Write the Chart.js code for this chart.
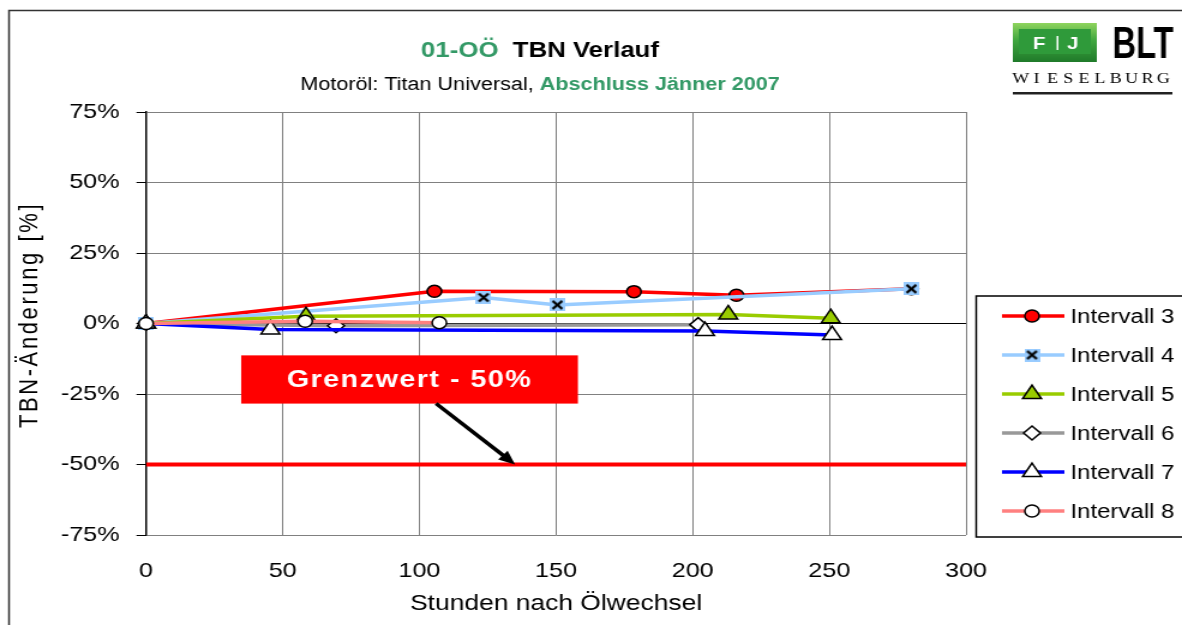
<!DOCTYPE html>
<html>
<head>
<meta charset="utf-8">
<script src="https://cdn.jsdelivr.net/npm/chart.js@4.4.0/dist/chart.umd.min.js"></script>
<style>
  html, body { margin: 0; padding: 0; background: #fff; overflow: hidden; }
  #tbnChart { display: block; }
</style>
</head>
<body>
<!-- the reference is stretched horizontally, so the canvas is drawn narrow and scaled up by css -->
<canvas id="tbnChart" width="985" height="625" style="width:1182px;height:625px"></canvas>
<script>
// ---- data (hours after oil change / TBN change in %) ----
const seriesNames = ['Intervall 3', 'Intervall 4', 'Intervall 5', 'Intervall 6', 'Intervall 7', 'Intervall 8'];
const hours3 = [0, 105.5, 178.5, 216, 280];
const tbn3   = [0, 11.4, 11.3, 10.0, 12.3];
const hours4 = [0, 123.5, 150.5, 280];
const tbn4   = [0, 9.2, 6.6, 12.3];
const hours5 = [0, 58.5, 213, 250.5];
const tbn5   = [0, 2.6, 3.2, 1.9];
const hours6 = [0, 69.5, 202];
const tbn6   = [0, -0.8, -0.4];
const hours7 = [0, 45.5, 204.5, 251];
const tbn7   = [0, -2.1, -2.7, -4.1];
const hours8 = [0, 58.2, 107.3];
const tbn8   = [0, 0.8, 0.3];
const limitHours = [0, 300];
const limitValue = [-50, -50];
const limitLabel = 'Grenzwert - 50%';
const xTicks = [0, 50, 100, 150, 200, 250, 300];
const yTicks = [-75, -50, -25, 0, 25, 50, 75];

const FONT = "'Liberation Sans', Arial, sans-serif";
const GREEN = '#339966';

// annotation box + arrow, in data units
const noteBox = { x0: 34.8, x1: 158, y0: -11.3, y1: -28.4 };
const noteArrow = { x0: 106.1, y0: -28.4, x1: 135, y1: -50 };

// light blue square with black x, used as marker for Intervall 4
const crossImg = document.createElement('canvas');
crossImg.width = 13; crossImg.height = 13;
(() => {
  const c = crossImg.getContext('2d');
  c.fillStyle = '#99ccff';
  c.fillRect(0, 0, 13, 13);
  c.strokeStyle = '#000';
  c.lineWidth = 2.4;
  c.beginPath();
  c.moveTo(2.5, 2.5); c.lineTo(10.5, 10.5);
  c.moveTo(10.5, 2.5); c.lineTo(2.5, 10.5);
  c.stroke();
})();

const looks = [
  { color: '#ff0000', fill: '#ff0000', style: 'circle',   r: 6 },
  { color: '#99ccff', fill: '#99ccff', style: crossImg,   r: 7 },
  { color: '#99cc00', fill: '#99cc00', style: 'triangle', r: 9 },
  { color: '#999999', fill: '#ffffff', style: 'rectRot',  r: 7 },
  { color: '#0000ff', fill: '#ffffff', style: 'triangle', r: 9 },
  { color: '#ff8080', fill: '#ffffff', style: 'circle',   r: 6 },
];

const pts = (xs, ys) => xs.map((x, i) => ({ x: x, y: ys[i] }));
const seriesData = [
  pts(hours3, tbn3), pts(hours4, tbn4), pts(hours5, tbn5),
  pts(hours6, tbn6), pts(hours7, tbn7), pts(hours8, tbn8),
];

const datasets = seriesData.map((d, i) => ({
  label: seriesNames[i],
  data: d,
  borderColor: looks[i].color,
  borderWidth: 3.5,
  pointStyle: looks[i].style,
  pointRadius: looks[i].r,
  pointHoverRadius: looks[i].r,
  pointBackgroundColor: looks[i].fill,
  pointBorderColor: '#000',
  pointBorderWidth: 1.5,
  tension: 0,
  clip: false,
  order: -i, // later series on top, like the original
}));
datasets.push({
  label: limitLabel,
  data: pts(limitHours, limitValue),
  borderColor: '#ff0000',
  borderWidth: 4,
  pointRadius: 0,
  order: 10,
});

function drawMarker(ctx, lk, x, y) {
  if (typeof lk.style !== 'string') {
    ctx.drawImage(lk.style, x - lk.style.width / 2, y - lk.style.height / 2);
    return;
  }
  const r = lk.r;
  ctx.beginPath();
  if (lk.style === 'circle') {
    ctx.arc(x, y, r, 0, Math.PI * 2);
  } else if (lk.style === 'triangle') {
    ctx.moveTo(x, y - r);
    ctx.lineTo(x + r * Math.sin(Math.PI * 2 / 3), y + r / 2);
    ctx.lineTo(x - r * Math.sin(Math.PI * 2 / 3), y + r / 2);
  } else {
    ctx.moveTo(x, y - r); ctx.lineTo(x + r, y); ctx.lineTo(x, y + r); ctx.lineTo(x - r, y);
  }
  ctx.closePath();
  ctx.fillStyle = lk.fill;
  ctx.fill();
  ctx.lineWidth = 1.5;
  ctx.strokeStyle = '#000';
  ctx.stroke();
}

function drawRich(ctx, parts, cx, y) {
  let total = 0;
  parts.forEach(p => { ctx.font = p.font; p.w = ctx.measureText(p.text).width; total += p.w; });
  let x = cx - total / 2;
  ctx.textAlign = 'left';
  ctx.textBaseline = 'alphabetic';
  parts.forEach(p => { ctx.font = p.font; ctx.fillStyle = p.color; ctx.fillText(p.text, x, y); x += p.w; });
}

const decorPlugin = {
  id: 'decor',
  beforeDraw(chart) {
    const ctx = chart.ctx;
    ctx.save();
    ctx.fillStyle = '#fff';
    ctx.fillRect(0, 0, chart.width, chart.height);
    ctx.restore();
  },
  afterDatasetsDraw(chart) {
    const { ctx, scales: { x, y } } = chart;
    ctx.save();
    // red note box
    const bx0 = x.getPixelForValue(noteBox.x0), bx1 = x.getPixelForValue(noteBox.x1);
    const by0 = y.getPixelForValue(noteBox.y0), by1 = y.getPixelForValue(noteBox.y1);
    ctx.fillStyle = '#ff0000';
    ctx.fillRect(bx0, by0, bx1 - bx0, by1 - by0);
    ctx.fillStyle = '#fff';
    ctx.font = 'bold 24px ' + FONT;
    if ('letterSpacing' in ctx) ctx.letterSpacing = '1.2px';
    ctx.textAlign = 'center';
    ctx.textBaseline = 'middle';
    ctx.fillText(limitLabel, (bx0 + bx1) / 2, (by0 + by1) / 2 + 1);
    if ('letterSpacing' in ctx) ctx.letterSpacing = '0px';
    // arrow
    const ax0 = x.getPixelForValue(noteArrow.x0), ay0 = y.getPixelForValue(noteArrow.y0);
    const ax1 = x.getPixelForValue(noteArrow.x1), ay1 = y.getPixelForValue(noteArrow.y1);
    const ang = Math.atan2(ay1 - ay0, ax1 - ax0);
    const head = 15;
    ctx.strokeStyle = '#000';
    ctx.lineWidth = 3.5;
    ctx.beginPath();
    ctx.moveTo(ax0, ay0);
    ctx.lineTo(ax1 - Math.cos(ang) * head * 0.8, ay1 - Math.sin(ang) * head * 0.8);
    ctx.stroke();
    ctx.fillStyle = '#000';
    ctx.beginPath();
    ctx.moveTo(ax1, ay1);
    ctx.lineTo(ax1 - Math.cos(ang - 0.4) * head, ay1 - Math.sin(ang - 0.4) * head);
    ctx.lineTo(ax1 - Math.cos(ang + 0.4) * head, ay1 - Math.sin(ang + 0.4) * head);
    ctx.closePath();
    ctx.fill();
    ctx.restore();
  },
  afterDraw(chart) {
    const ctx = chart.ctx;
    const W = chart.width;
    ctx.save();

    // outer frame (left and top only, the rest is cut off)
    ctx.strokeStyle = '#333';
    ctx.lineWidth = 1.5;
    ctx.beginPath();
    ctx.moveTo(7.5, chart.height);
    ctx.lineTo(7.5, 10.5);
    ctx.lineTo(W, 10.5);
    ctx.stroke();

    // title + subtitle
    drawRich(ctx, [
      { text: '01-OÖ', font: 'bold 21.5px ' + FONT, color: GREEN },
      { text: '  TBN Verlauf', font: 'bold 21.5px ' + FONT, color: '#000' },
    ], 450, 56.5);
    drawRich(ctx, [
      { text: 'Motoröl: Titan Universal, ', font: '18px ' + FONT, color: '#000' },
      { text: 'Abschluss Jänner 2007', font: 'bold 18px ' + FONT, color: GREEN },
    ], 450, 90);

    // y axis title
    ctx.save();
    ctx.translate(25, 315);
    ctx.rotate(-Math.PI / 2);
    ctx.font = '22px ' + FONT;
    if ('letterSpacing' in ctx) ctx.letterSpacing = '2.6px';
    ctx.fillStyle = '#000';
    ctx.textAlign = 'center';
    ctx.textBaseline = 'middle';
    ctx.fillText('TBN-Änderung [%]', 0, 0);
    ctx.restore();

    // logo
    const gx = 844, gy = 23, gw = 70, gh = 39;
    const grad = ctx.createLinearGradient(0, gy, 0, gy + gh);
    grad.addColorStop(0, '#8fd45e');
    grad.addColorStop(0.45, '#3fa63f');
    grad.addColorStop(1, '#1f7a2a');
    ctx.fillStyle = grad;
    ctx.fillRect(gx, gy, gw, gh);
    ctx.fillStyle = '#2f9a3a';
    ctx.fillRect(gx + 5, gy + 6, gw - 10, gh - 14);
    ctx.fillStyle = '#fff';
    ctx.font = 'bold 17px ' + FONT;
    ctx.textAlign = 'center';
    ctx.textBaseline = 'alphabetic';
    ctx.fillText('F', 866, 49);
    ctx.fillText('J', 894, 49);
    ctx.fillRect(880.5, 36, 1.5, 14);
    ctx.fillStyle = '#000';
    ctx.font = 'bold 44px ' + FONT;
    ctx.textAlign = 'left';
    ctx.fillText('BLT', 927, 58, 51);
    ctx.font = '15px "Liberation Serif", "Times New Roman", serif';
    const word = 'WIESELBURG';
    const step = (976 - 844) / word.length;
    ctx.textAlign = 'center';
    for (let i = 0; i < word.length; i++) ctx.fillText(word[i], 844 + step * (i + 0.5), 83);
    ctx.fillStyle = '#222';
    ctx.fillRect(844, 92, 133, 2.5);

    // legend
    ctx.fillStyle = '#fff';
    ctx.fillRect(813.5, 296, W, 241);
    ctx.strokeStyle = '#000';
    ctx.lineWidth = 1.5;
    ctx.strokeRect(813.5, 296, W, 241);
    ctx.font = '20px ' + FONT;
    ctx.textAlign = 'left';
    ctx.textBaseline = 'middle';
    seriesNames.forEach((name, i) => {
      const ly = 316 + i * 39;
      ctx.strokeStyle = looks[i].color;
      ctx.lineWidth = 3.5;
      ctx.beginPath();
      ctx.moveTo(835, ly);
      ctx.lineTo(887, ly);
      ctx.stroke();
      drawMarker(ctx, looks[i], 860, ly);
      ctx.fillStyle = '#000';
      ctx.fillText(name, 892, ly + 1);
    });
    ctx.restore();
  },
};

new Chart(document.getElementById('tbnChart'), {
  type: 'line',
  data: { datasets: datasets },
  options: {
    responsive: false,
    animation: false,
    devicePixelRatio: 1,
    layout: { padding: { left: 0, top: 112, right: 985 - 805, bottom: 0 } },
    plugins: { legend: { display: false }, tooltip: { enabled: false } },
    scales: {
      x: {
        type: 'linear',
        min: xTicks[0],
        max: xTicks[xTicks.length - 1],
        afterBuildTicks: s => { s.ticks = xTicks.map(v => ({ value: v })); },
        ticks: { color: '#000', font: { family: FONT, size: 21 }, padding: 24, maxRotation: 0 },
        grid: {
          color: c => (c.tick && c.tick.value === 0 ? '#000' : '#808080'),
          lineWidth: 1,
          drawTicks: false,
        },
        border: { display: false },
        title: {
          display: true,
          text: 'Stunden nach Ölwechsel',
          color: '#000',
          font: { family: FONT, size: 22 },
          padding: { top: 0, bottom: 8 },
        },
        afterFit: s => { s.height = 90; },
      },
      y: {
        type: 'linear',
        min: yTicks[0],
        max: yTicks[yTicks.length - 1],
        afterBuildTicks: s => { s.ticks = yTicks.map(v => ({ value: v })); },
        ticks: { color: '#000', font: { family: FONT, size: 21 }, padding: 14, callback: v => v + '%' },
        grid: {
          color: c => (c.tick && c.tick.value === 0 ? '#000' : '#808080'),
          tickColor: '#000',
          tickLength: 8,
          lineWidth: 1,
        },
        border: { color: '#000', width: 1.5 },
        afterFit: s => { s.width = 121.7; },
      },
    },
  },
  plugins: [decorPlugin],
});
</script>
</body>
</html>
